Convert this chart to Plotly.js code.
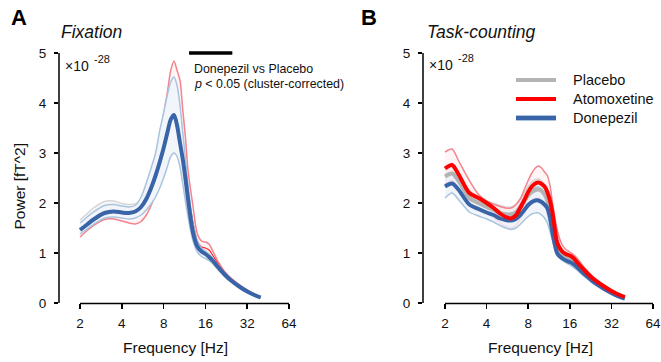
<!DOCTYPE html>
<html>
<head>
<meta charset="utf-8">
<script src="https://cdn.plot.ly/plotly-3.0.1.min.js"></script>
<style>html,body{margin:0;padding:0;background:#fff;}#chart{width:661px;height:362px;}</style>
</head>
<body>
<div id="chart"></div>
<script>
// ---------- data (power, x10^-28 fT^2) ----------
const freqs = [2, 2.25, 2.5, 3, 3.5, 4, 4.5, 5, 5.5, 6, 6.5, 7, 7.5, 8, 8.5, 9, 9.5, 10, 10.5, 11, 11.5, 12, 13, 14, 15, 16, 17, 18, 20, 22, 24, 28, 32, 36, 40];

// Panel A: Fixation
const placeboUpperA = [1.66, 1.79, 1.9, 2.03, 2.04, 1.99, 1.97, 1.98, 2.08, 2.3, 2.58, 2.9, 3.25, 3.6, 3.95, 4.2, 4.3, 4.15, 3.8, 3.25, 2.7, 2.2, 1.5, 1.18, 1.06, 1.0, 0.95, 0.88, 0.73, 0.6, 0.5, 0.35, 0.25, 0.17, 0.12];
const placeboLowerA = [1.5, 1.62, 1.72, 1.85, 1.87, 1.84, 1.82, 1.84, 1.92, 2.08, 2.3, 2.55, 2.85, 3.15, 3.45, 3.7, 3.78, 3.65, 3.35, 2.95, 2.5, 2.05, 1.4, 1.1, 1.0, 0.95, 0.9, 0.84, 0.69, 0.56, 0.46, 0.32, 0.22, 0.15, 0.1];
const atomoxUpperA = [1.5, 1.62, 1.72, 1.86, 1.88, 1.86, 1.85, 1.88, 2.02, 2.3, 2.62, 2.95, 3.35, 3.78, 4.2, 4.65, 4.84, 4.65, 4.45, 3.85, 3.3, 2.65, 1.95, 1.38, 1.24, 1.22, 1.18, 1.05, 0.8, 0.63, 0.52, 0.37, 0.26, 0.18, 0.13];
const atomoxLowerA = [1.32, 1.45, 1.55, 1.67, 1.68, 1.64, 1.6, 1.58, 1.63, 1.76, 1.95, 2.18, 2.45, 2.75, 3.05, 3.3, 3.4, 3.3, 3.05, 2.65, 2.2, 1.8, 1.3, 1.1, 1.02, 0.99, 0.95, 0.88, 0.72, 0.58, 0.48, 0.34, 0.24, 0.17, 0.12];
const atomoxMeanA = [1.41, 1.53, 1.63, 1.76, 1.78, 1.75, 1.72, 1.73, 1.82, 2.03, 2.28, 2.56, 2.9, 3.27, 3.62, 3.97, 4.12, 4.0, 3.75, 3.28, 2.75, 2.22, 1.62, 1.24, 1.12, 1.1, 1.06, 0.96, 0.76, 0.6, 0.5, 0.35, 0.25, 0.17, 0.12];
const donepUpperA = [1.6, 1.72, 1.82, 1.95, 1.97, 1.94, 1.92, 1.95, 2.12, 2.4, 2.7, 3.0, 3.45, 3.8, 4.15, 4.42, 4.52, 4.35, 3.95, 3.4, 2.88, 2.35, 1.6, 1.24, 1.1, 1.04, 0.98, 0.9, 0.74, 0.6, 0.5, 0.35, 0.25, 0.17, 0.12];
const donepLowerA = [1.38, 1.48, 1.57, 1.7, 1.72, 1.7, 1.68, 1.7, 1.76, 1.86, 1.98, 2.12, 2.3, 2.5, 2.72, 2.93, 3.0, 2.93, 2.72, 2.38, 2.02, 1.72, 1.25, 1.02, 0.93, 0.89, 0.85, 0.79, 0.65, 0.53, 0.44, 0.31, 0.21, 0.15, 0.1];
const donepMeanA = [1.46, 1.57, 1.67, 1.8, 1.83, 1.81, 1.8, 1.83, 1.92, 2.08, 2.3, 2.55, 2.82, 3.1, 3.4, 3.67, 3.76, 3.55, 3.2, 2.87, 2.48, 2.07, 1.42, 1.13, 1.03, 0.98, 0.92, 0.85, 0.7, 0.57, 0.47, 0.33, 0.23, 0.16, 0.11];
const sigFreqA = [12.2, 25];
const sigLevelA = [5, 5];

// Panel B: Task-counting
const placeboMeanB = [2.53, 2.59, 2.45, 2.1, 2.0, 1.92, 1.86, 1.8, 1.77, 1.77, 1.81, 1.92, 2.04, 2.15, 2.22, 2.26, 2.27, 2.24, 2.17, 2.05, 1.85, 1.58, 1.12, 0.97, 0.91, 0.88, 0.84, 0.78, 0.65, 0.54, 0.45, 0.32, 0.22, 0.15, 0.1];
const placeboUpperB = [2.7, 2.76, 2.6, 2.25, 2.13, 2.04, 1.99, 1.95, 1.92, 1.92, 1.97, 2.08, 2.2, 2.33, 2.42, 2.47, 2.48, 2.44, 2.36, 2.22, 2.0, 1.72, 1.22, 1.05, 0.98, 0.94, 0.9, 0.83, 0.69, 0.57, 0.48, 0.34, 0.24, 0.16, 0.11];
const placeboLowerB = [2.38, 2.44, 2.3, 1.96, 1.87, 1.8, 1.74, 1.66, 1.63, 1.63, 1.66, 1.76, 1.88, 1.98, 2.03, 2.06, 2.07, 2.04, 1.98, 1.88, 1.7, 1.44, 1.02, 0.89, 0.84, 0.82, 0.78, 0.73, 0.61, 0.51, 0.42, 0.3, 0.2, 0.14, 0.09];
const atomoxMeanB = [2.69, 2.76, 2.58, 2.2, 2.1, 2.0, 1.9, 1.79, 1.72, 1.69, 1.75, 1.9, 2.06, 2.22, 2.33, 2.39, 2.41, 2.38, 2.33, 2.22, 2.05, 1.8, 1.2, 1.04, 0.98, 0.95, 0.9, 0.82, 0.68, 0.56, 0.47, 0.34, 0.24, 0.17, 0.12];
const atomoxUpperB = [3.02, 3.08, 2.85, 2.45, 2.17, 2.04, 1.98, 1.93, 1.9, 1.9, 1.96, 2.08, 2.27, 2.45, 2.6, 2.7, 2.74, 2.7, 2.62, 2.55, 2.35, 2.0, 1.45, 1.18, 1.07, 1.02, 0.97, 0.9, 0.74, 0.61, 0.51, 0.37, 0.26, 0.18, 0.13];
const atomoxLowerB = [2.38, 2.45, 2.3, 1.98, 1.88, 1.8, 1.7, 1.6, 1.53, 1.5, 1.55, 1.68, 1.83, 1.97, 2.05, 2.09, 2.1, 2.06, 1.98, 1.85, 1.68, 1.45, 1.05, 0.92, 0.88, 0.85, 0.81, 0.75, 0.62, 0.51, 0.43, 0.31, 0.22, 0.15, 0.11];
const donepMeanB = [2.33, 2.39, 2.27, 1.97, 1.88, 1.81, 1.76, 1.69, 1.66, 1.65, 1.68, 1.76, 1.86, 1.96, 2.02, 2.05, 2.05, 2.02, 1.97, 1.9, 1.7, 1.4, 0.99, 0.9, 0.85, 0.82, 0.78, 0.72, 0.6, 0.5, 0.41, 0.29, 0.2, 0.13, 0.09];
const donepUpperB = [2.55, 2.6, 2.48, 2.12, 2.02, 1.95, 1.9, 1.83, 1.8, 1.8, 1.84, 1.95, 2.07, 2.18, 2.26, 2.31, 2.32, 2.28, 2.2, 2.1, 1.9, 1.6, 1.15, 0.99, 0.93, 0.89, 0.85, 0.78, 0.65, 0.54, 0.45, 0.32, 0.22, 0.15, 0.1];
const donepLowerB = [2.1, 2.2, 2.07, 1.82, 1.74, 1.68, 1.62, 1.55, 1.5, 1.47, 1.5, 1.57, 1.66, 1.73, 1.78, 1.8, 1.8, 1.76, 1.7, 1.6, 1.43, 1.25, 0.95, 0.86, 0.81, 0.76, 0.71, 0.66, 0.55, 0.46, 0.38, 0.27, 0.18, 0.12, 0.08];

const conditions = ['Placebo', 'Atomoxetine', 'Donepezil'];
const xTickVals = [2, 4, 8, 16, 32, 64];
const yTickVals = [0, 1, 2, 3, 4, 5];

// ---------- styles ----------
const FONT = 'Liberation Sans, Arial, Helvetica, sans-serif';
const TXT = '#111';
const sty = {
  Placebo:     {mean: '#b3b3b3', edge: '#d6d6d6', fill: 'rgba(205,205,205,0.18)'},
  Atomoxetine: {mean: '#ff0000', edge: '#f5838c', fill: 'rgba(255,120,130,0.07)'},
  Donepezil:   {mean: '#3a64a8', edge: '#a9c4de', fill: 'rgb(242,246,251)'}
};
const W = 661, H = 362;
const px = v => v / W, py = v => 1 - v / H;

const traces = [];
function band(lower, upper, s, xa, ya, fill) {
  traces.push({x: freqs, y: lower, xaxis: xa, yaxis: ya, mode: 'lines', hoverinfo: 'skip', showlegend: false,
    line: {color: s.edge, width: 1.5, shape: 'spline', smoothing: 0.8}});
  traces.push({x: freqs, y: upper, xaxis: xa, yaxis: ya, mode: 'lines', hoverinfo: 'skip', showlegend: false,
    fill: 'tonexty', fillcolor: fill || s.fill,
    line: {color: s.edge, width: 1.5, shape: 'spline', smoothing: 0.8}});
}
function meanLine(y, color, width, xa, ya) {
  traces.push({x: freqs, y: y, xaxis: xa, yaxis: ya, mode: 'lines', hoverinfo: 'skip', showlegend: false,
    line: {color: color, width: width, shape: 'spline', smoothing: 0.8}});
}

// Panel A
band(placeboLowerA, placeboUpperA, sty.Placebo, 'x', 'y');
band(atomoxLowerA, atomoxUpperA, sty.Atomoxetine, 'x', 'y');
meanLine(atomoxMeanA, 'rgba(255,0,0,0.85)', 1.2, 'x', 'y');
band(donepLowerA, donepUpperA, sty.Donepezil, 'x', 'y');
meanLine(donepMeanA, sty.Donepezil.mean, 4, 'x', 'y');
traces.push({x: sigFreqA, y: sigLevelA, xaxis: 'x', yaxis: 'y', mode: 'lines', hoverinfo: 'skip', showlegend: false,
  line: {color: '#000', width: 3.5}});

// Panel B
band(placeboLowerB, placeboUpperB, sty.Placebo, 'x2', 'y2');
band(atomoxLowerB, atomoxUpperB, sty.Atomoxetine, 'x2', 'y2');
band(donepLowerB, donepUpperB, sty.Donepezil, 'x2', 'y2', 'rgba(238,243,250,0.8)');
meanLine(placeboMeanB, sty.Placebo.mean, 4, 'x2', 'y2');
meanLine(donepMeanB, sty.Donepezil.mean, 4, 'x2', 'y2');
meanLine(atomoxMeanB, sty.Atomoxetine.mean, 4, 'x2', 'y2');

// ---------- axes ----------
const L2 = Math.log10(2);
const yDom = [py(303), py(48)];
function xAxis(domPx, leftOffsetPx, octPx) {
  return {
    type: 'log', domain: [px(domPx[0]), px(domPx[1])],
    range: [L2 - (leftOffsetPx / octPx) * L2, Math.log10(64)],
    tickmode: 'array', tickvals: xTickVals, ticktext: xTickVals.map(String),
    ticks: 'outside', ticklen: 5, tickwidth: 1.5, tickcolor: '#000',
    showline: false, showgrid: false, zeroline: false, fixedrange: true,
    tickfont: {family: FONT, size: 13.5, color: TXT}, ticklabelstandoff: 3
  };
}
function yAxis(anchor) {
  return {
    domain: yDom, range: [0, 5.1], anchor: anchor,
    tickmode: 'array', tickvals: yTickVals, ticktext: yTickVals.map(String),
    ticks: 'outside', ticklen: 4, tickwidth: 1.5, tickcolor: '#000',
    showline: false, showgrid: false, zeroline: false, fixedrange: true,
    tickfont: {family: FONT, size: 13.5, color: TXT}, ticklabelstandoff: 5
  };
}

const shapes = [
  {type: 'line', xref: 'paper', yref: 'y', x0: px(59), x1: px(59), y0: 0, y1: 5, line: {color: '#000', width: 1.5}},
  {type: 'line', xref: 'x', yref: 'paper', x0: 2, x1: 64, y0: py(303.5), y1: py(303.5), line: {color: '#000', width: 1.5}},
  {type: 'line', xref: 'paper', yref: 'y2', x0: px(423), x1: px(423), y0: 0, y1: 5, line: {color: '#000', width: 1.5}},
  {type: 'line', xref: 'x2', yref: 'paper', x0: 2, x1: 64, y0: py(303.5), y1: py(303.5), line: {color: '#000', width: 1.5}}
];

const annotations = [];
function ann(text, xPx, yPx, opts) {
  annotations.push(Object.assign({text: text, xref: 'paper', yref: 'paper', x: px(xPx), y: py(yPx),
    xanchor: 'left', yanchor: 'middle', showarrow: false,
    font: {family: FONT, size: 13, color: TXT}}, opts || {}));
}
ann('<b>A</b>', 9, 18, {font: {family: FONT, size: 22, color: '#000'}});
ann('<b>B</b>', 359, 18, {font: {family: FONT, size: 22, color: '#000'}});
ann('<i>Fixation</i>', 59, 32, {font: {family: FONT, size: 17.5, color: TXT}});
ann('<i>Task-counting</i>', 425, 32, {font: {family: FONT, size: 17.5, color: TXT}});
ann('×10', 63, 66, {font: {family: FONT, size: 14, color: TXT}});
ann('-28', 92, 59, {font: {family: FONT, size: 11, color: TXT}});
ann('×10', 427, 65, {font: {family: FONT, size: 14, color: TXT}});
ann('-28', 456, 58, {font: {family: FONT, size: 11, color: TXT}});
ann('Donepezil vs Placebo', 192, 69, {font: {family: FONT, size: 12.4, color: TXT}});
ann('<i>p</i> &lt; 0.05 (cluster-corrected)', 192, 84, {font: {family: FONT, size: 12.4, color: TXT}});
ann('Frequency [Hz]', 175.5, 347, {xanchor: 'center', font: {family: FONT, size: 15.5, color: TXT}});
ann('Frequency [Hz]', 540, 347, {xanchor: 'center', font: {family: FONT, size: 15.5, color: TXT}});
ann('Power [fT^2]', 18.5, 186, {xanchor: 'center', textangle: -90, font: {family: FONT, size: 15.5, color: TXT}});

// legend (panel B)
const legY = [80, 99, 118];
conditions.forEach((c, i) => {
  if (c === 'Donepezil') {
    shapes.push({type: 'line', xref: 'paper', yref: 'paper', x0: px(516), x1: px(556), y0: py(legY[i]), y1: py(legY[i]),
      line: {color: sty[c].edge, width: 6}});
  }
  shapes.push({type: 'line', xref: 'paper', yref: 'paper', x0: px(516), x1: px(556), y0: py(legY[i]), y1: py(legY[i]),
    line: {color: sty[c].mean, width: 4}});
  ann(c, 571, legY[i], {font: {family: FONT, size: 14.5, color: TXT}});
});

const layout = {
  width: W, height: H, margin: {l: 0, r: 0, t: 0, b: 0},
  paper_bgcolor: '#fff', plot_bgcolor: 'rgba(0,0,0,0)', showlegend: false,
  xaxis: Object.assign(xAxis([59, 289], 21, 41.7), {anchor: 'y'}),
  yaxis: yAxis('x'),
  xaxis2: Object.assign(xAxis([423, 653], 22, 41.6), {anchor: 'y2'}),
  yaxis2: yAxis('x2'),
  shapes: shapes, annotations: annotations
};

Plotly.newPlot('chart', traces, layout, {staticPlot: true, displayModeBar: false});
</script>
</body>
</html>
